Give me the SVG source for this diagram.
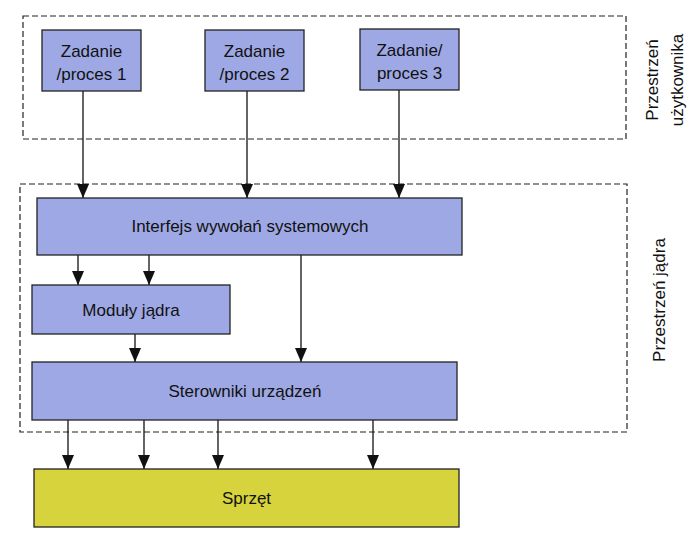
<svg xmlns="http://www.w3.org/2000/svg" width="700" height="540" viewBox="0 0 700 540">
<style>
.blue{fill:#9ea8e4;stroke:#222;stroke-width:1.3}
.yellow{fill:#d6d33c;stroke:#222;stroke-width:1.3}
.zone{fill:none;stroke:#222;stroke-width:1.2;stroke-dasharray:6,3}
.t{font-family:"Liberation Sans",Arial,sans-serif;font-size:17px;fill:#111;text-anchor:middle}
.c{stroke:#111;stroke-width:1.3;fill:none;marker-end:url(#ah)}
</style>
<defs>
<marker id="ah" viewBox="0 0 14 12" refX="14" refY="6" markerWidth="14" markerHeight="12" markerUnits="userSpaceOnUse" orient="auto">
<path d="M0,0 L14,6 L0,12 Z" fill="#111"/>
</marker>
</defs>
<rect width="700" height="540" fill="#fff"/>
<g id="zone-user">
<rect class="zone" x="23" y="16" width="603" height="123"/>
<text class="t" transform="translate(658,80) rotate(-90)">Przestrzeń</text>
<text class="t" transform="translate(683,80) rotate(-90)">użytkownika</text>
</g>
<g id="zone-kernel">
<rect class="zone" x="20" y="184" width="607" height="248"/>
<text class="t" transform="translate(665,300) rotate(-90)">Przestrzeń jądra</text>
</g>
<g id="connectors">
<path class="c" d="M83,91 V198"/>
<path class="c" d="M247,91 V198"/>
<path class="c" d="M399,90 V198"/>
<path class="c" d="M78,255 V285"/>
<path class="c" d="M149,255 V285"/>
<path class="c" d="M301,255 V362"/>
<path class="c" d="M135,334 V362"/>
<path class="c" d="M68,420 V469"/>
<path class="c" d="M144,420 V469"/>
<path class="c" d="M218,420 V469"/>
<path class="c" d="M373,420 V469"/>
</g>
<g id="p1">
<rect class="blue" x="42" y="30" width="99" height="61"/>
<text class="t" x="91.5" y="57">Zadanie</text>
<text class="t" x="91.5" y="80">/proces 1</text>
</g>
<g id="p2">
<rect class="blue" x="205" y="30" width="99" height="61"/>
<text class="t" x="254.5" y="57">Zadanie</text>
<text class="t" x="254.5" y="80">/proces 2</text>
</g>
<g id="p3">
<rect class="blue" x="360" y="29" width="99" height="61"/>
<text class="t" x="409.5" y="56">Zadanie/</text>
<text class="t" x="409.5" y="79">proces 3</text>
</g>
<g id="syscall">
<rect class="blue" x="37" y="198" width="425" height="57"/>
<text class="t" x="250" y="232">Interfejs wywołań systemowych</text>
</g>
<g id="modules">
<rect class="blue" x="32" y="285" width="198" height="49"/>
<text class="t" x="131" y="316">Moduły jądra</text>
</g>
<g id="drivers">
<rect class="blue" x="32" y="362" width="425" height="58"/>
<text class="t" x="245" y="397">Sterowniki urządzeń</text>
</g>
<g id="hardware">
<rect class="yellow" x="34" y="469" width="425" height="58"/>
<text class="t" x="246.5" y="504">Sprzęt</text>
</g>
</svg>
